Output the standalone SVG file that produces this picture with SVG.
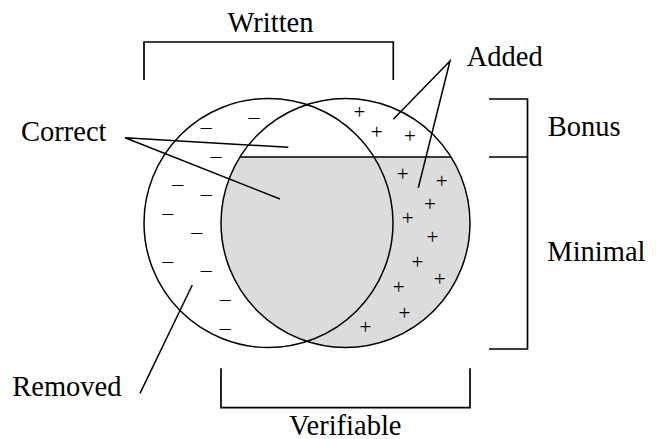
<svg xmlns="http://www.w3.org/2000/svg" width="661" height="439" viewBox="0 0 661 439">
<style>
.ln{fill:none;stroke:#000;stroke-width:1.5}
.br{fill:none;stroke:#000;stroke-width:1.7}
text{font-family:'Liberation Serif','DejaVu Serif',serif;fill:#000}
.lbl{font-size:28.5px}
.mn{font-size:22px;text-anchor:middle}
.pl{font-size:21px;text-anchor:middle}
</style>
<rect width="661" height="439" fill="#fff"/>
<g id="minimal-region">
<path d="M 239.9 157 L 451.1 157 A 124.5 124.5 0 1 1 239.9 157 Z" fill="#dcdcdc" stroke="none"/>
</g>
<g id="written-circle">
<circle cx="268.5" cy="223" r="124.5" class="ln"/>
</g>
<g id="verifiable-circle">
<circle cx="345.5" cy="223" r="124.5" class="ln"/>
<line x1="239.9" y1="157" x2="451.1" y2="157" class="ln"/>
</g>
<g id="minus-signs">
<text class="mn" x="254" y="124.3">–</text>
<text class="mn" x="206.3" y="133.6">–</text>
<text class="mn" x="216" y="162.6">–</text>
<text class="mn" x="177.7" y="191.3">–</text>
<text class="mn" x="206.3" y="201">–</text>
<text class="mn" x="167.7" y="219.6">–</text>
<text class="mn" x="196.7" y="239">–</text>
<text class="mn" x="167.7" y="267.6">–</text>
<text class="mn" x="206.3" y="277.3">–</text>
<text class="mn" x="225.3" y="306">–</text>
<text class="mn" x="225.3" y="334.6">–</text>
</g>
<g id="plus-signs">
<text class="pl" x="359.3" y="119.3">+</text>
<text class="pl" x="376.7" y="138.6">+</text>
<text class="pl" x="410" y="143">+</text>
<text class="pl" x="402.7" y="181.3">+</text>
<text class="pl" x="441.7" y="187.6">+</text>
<text class="pl" x="430" y="211">+</text>
<text class="pl" x="407.7" y="225.3">+</text>
<text class="pl" x="432.3" y="243.6">+</text>
<text class="pl" x="417.3" y="269.3">+</text>
<text class="pl" x="439.7" y="286">+</text>
<text class="pl" x="398.7" y="293.6">+</text>
<text class="pl" x="404.3" y="320.3">+</text>
<text class="pl" x="365.3" y="333.6">+</text>
</g>
<g id="connectors">
<polyline class="ln" points="288.3,147.3 125,137.7 280,199"/>
<polyline class="ln" points="393.3,119.3 450,61 418.3,187.7"/>
<line class="ln" x1="140" y1="393.3" x2="192.3" y2="285"/>
</g>
<g id="written">
<polyline class="br" points="144,80 144,42 393.3,42 393.3,80"/>
<text class="lbl" x="270.5" y="32.3" text-anchor="middle">Written</text>
</g>
<g id="verifiable">
<polyline class="br" points="221,368.3 221,407.7 470,407.7 470,368.3"/>
<text class="lbl" x="345.3" y="434.5" text-anchor="middle">Verifiable</text>
</g>
<g id="bonus">
<polyline class="br" points="489,99 527.5,99 527.5,157 489,157"/>
<text class="lbl" x="547.7" y="136">Bonus</text>
</g>
<g id="minimal">
<polyline class="br" points="527.5,157 527.5,349 489,349"/>
<text class="lbl" x="547.3" y="260.7">Minimal</text>
</g>
<g id="added">
<text class="lbl" x="466.7" y="66">Added</text>
</g>
<g id="correct">
<text class="lbl" x="21" y="141.3">Correct</text>
</g>
<g id="removed">
<text class="lbl" x="12.3" y="395.7">Removed</text>
</g>
</svg>
